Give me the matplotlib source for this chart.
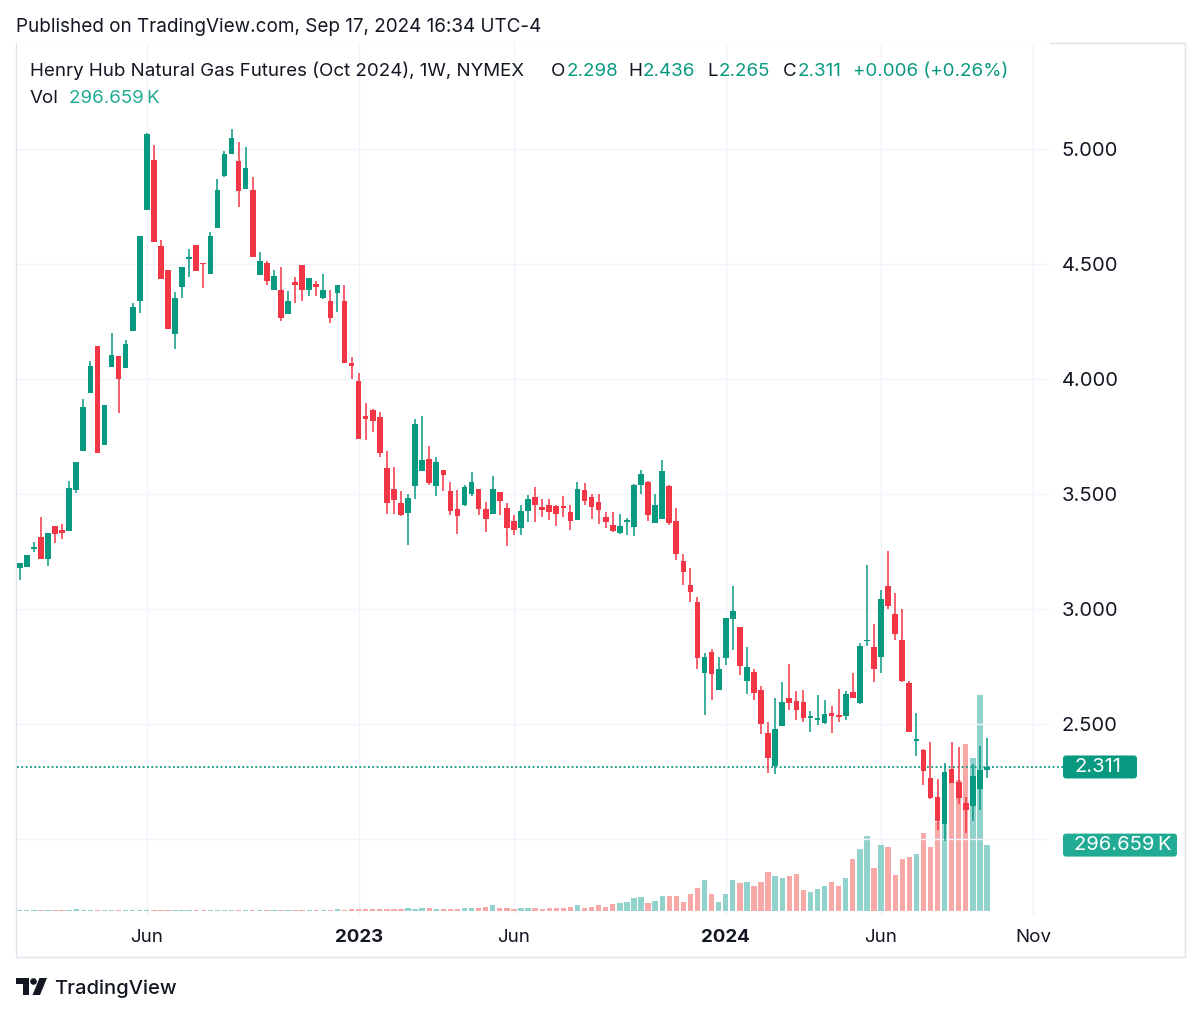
import matplotlib
matplotlib.use('Agg')
import matplotlib.pyplot as plt
import matplotlib.dates as mdates
from matplotlib.patches import Rectangle, FancyBboxPatch, Circle, Polygon
from matplotlib.transforms import IdentityTransform
import pandas as pd

plt.rcParams['font.family'] = ['Inter', 'DejaVu Sans']

# ---------------- data (weekly OHLC, Henry Hub NG Oct 2024, NYMEX) ----------------
opens = [3.177, 3.180, 3.258, 3.311, 3.216, 3.359, 3.343, 3.336, 3.514, 3.686,
         3.938, 4.142, 3.710, 4.049, 4.098, 4.044, 4.208, 4.338, 4.731, 4.952,
         4.574, 4.473, 4.194, 4.396, 4.520, 4.580, 4.500, 4.454, 4.654, 4.879,
         4.977, 4.945, 4.826, 4.821, 4.451, 4.502, 4.383, 4.386, 4.281, 4.419,
         4.495, 4.383, 4.410, 4.349, 4.335, 4.371, 4.335, 4.068, 3.988, 3.839,
         3.863, 3.831, 3.611, 3.520, 3.460, 3.416, 3.532, 3.597, 3.650, 3.532,
         3.601, 3.510, 3.431, 3.448, 3.500, 3.520, 3.431, 3.412, 3.506, 3.435,
         3.381, 3.348, 3.425, 3.486, 3.442, 3.449, 3.445, 3.445, 3.419, 3.384,
         3.517, 3.486, 3.461, 3.399, 3.362, 3.329, 3.378, 3.355, 3.536, 3.548,
         3.372, 3.391, 3.532, 3.381, 3.206, 3.101, 3.029, 2.720, 2.812, 2.645,
         2.786, 2.954, 2.920, 2.686, 2.725, 2.645, 2.457, 2.314, 2.488, 2.613,
         2.599, 2.594, 2.526, 2.514, 2.503, 2.546, 2.535, 2.533, 2.635, 2.591,
         2.857, 2.833, 2.787, 3.097, 2.975, 2.862, 2.677, 2.425, 2.384, 2.265,
         2.181, 2.062, 2.304, 2.246, 2.155, 2.142, 2.217, 2.298]
highs = [3.199, 3.231, 3.289, 3.398, 3.330, 3.359, 3.369, 3.553, 3.635, 3.909,
         4.078, 4.142, 3.885, 4.200, 4.098, 4.168, 4.330, 4.621, 5.068, 5.017,
         4.603, 4.473, 4.378, 4.483, 4.564, 4.580, 4.500, 4.637, 4.869, 4.991,
         5.083, 5.028, 5.007, 4.877, 4.550, 4.512, 4.473, 4.484, 4.381, 4.441,
         4.495, 4.436, 4.425, 4.455, 4.386, 4.407, 4.407, 4.094, 4.026, 3.895,
         3.866, 3.856, 3.686, 3.615, 3.510, 3.496, 3.823, 3.837, 3.707, 3.659,
         3.601, 3.549, 3.517, 3.539, 3.594, 3.520, 3.463, 3.575, 3.506, 3.459,
         3.406, 3.449, 3.493, 3.529, 3.478, 3.478, 3.449, 3.488, 3.449, 3.548,
         3.546, 3.500, 3.500, 3.420, 3.420, 3.413, 3.394, 3.543, 3.604, 3.555,
         3.496, 3.645, 3.536, 3.439, 3.236, 3.177, 3.051, 2.807, 2.826, 2.790,
         2.957, 3.097, 2.920, 2.833, 2.735, 2.662, 2.507, 2.609, 2.681, 2.758,
         2.642, 2.645, 2.554, 2.623, 2.601, 2.577, 2.648, 2.642, 2.720, 2.848,
         3.191, 2.932, 3.080, 3.251, 3.068, 3.000, 2.686, 2.546, 2.387, 2.420,
         2.257, 2.329, 2.420, 2.399, 2.181, 2.323, 2.401, 2.436]
lows = [3.122, 3.180, 3.245, 3.216, 3.184, 3.286, 3.304, 3.336, 3.503, 3.686,
        3.938, 3.678, 3.710, 4.049, 3.851, 4.044, 4.208, 4.284, 4.731, 4.593,
        4.434, 4.216, 4.127, 4.352, 4.441, 4.466, 4.393, 4.454, 4.654, 4.876,
        4.977, 4.746, 4.826, 4.527, 4.451, 4.405, 4.383, 4.248, 4.281, 4.330,
        4.339, 4.359, 4.357, 4.345, 4.243, 4.291, 4.066, 4.000, 3.735, 3.733,
        3.769, 3.659, 3.409, 3.409, 3.402, 3.275, 3.474, 3.597, 3.539, 3.491,
        3.510, 3.405, 3.323, 3.446, 3.491, 3.405, 3.333, 3.412, 3.406, 3.271,
        3.319, 3.319, 3.377, 3.377, 3.399, 3.384, 3.358, 3.399, 3.343, 3.384,
        3.449, 3.391, 3.367, 3.348, 3.333, 3.323, 3.319, 3.314, 3.500, 3.380,
        3.372, 3.391, 3.362, 3.213, 3.101, 3.029, 2.739, 2.539, 2.601, 2.645,
        2.754, 2.819, 2.710, 2.628, 2.604, 2.454, 2.286, 2.280, 2.488, 2.558,
        2.517, 2.507, 2.464, 2.493, 2.497, 2.459, 2.507, 2.514, 2.609, 2.584,
        2.836, 2.681, 2.720, 2.996, 2.865, 2.681, 2.461, 2.358, 2.232, 2.170,
        2.039, 1.990, 2.242, 2.152, 2.022, 2.077, 2.126, 2.265]
closes = [3.199, 3.231, 3.262, 3.216, 3.330, 3.322, 3.330, 3.524, 3.635, 3.874,
          4.056, 3.678, 3.885, 4.102, 3.996, 4.150, 4.313, 4.621, 5.061, 4.593,
          4.434, 4.216, 4.352, 4.483, 4.526, 4.466, 4.496, 4.621, 4.821, 4.974,
          5.044, 4.814, 4.916, 4.527, 4.512, 4.422, 4.444, 4.262, 4.335, 4.405,
          4.383, 4.436, 4.400, 4.386, 4.265, 4.407, 4.066, 4.053, 3.738, 3.824,
          3.817, 3.676, 3.460, 3.471, 3.405, 3.481, 3.803, 3.647, 3.546, 3.637,
          3.582, 3.424, 3.402, 3.529, 3.550, 3.431, 3.388, 3.520, 3.467, 3.348,
          3.343, 3.425, 3.478, 3.449, 3.428, 3.420, 3.410, 3.439, 3.380, 3.519,
          3.468, 3.442, 3.430, 3.377, 3.338, 3.358, 3.383, 3.536, 3.583, 3.406,
          3.449, 3.599, 3.372, 3.239, 3.159, 3.070, 2.783, 2.790, 2.714, 2.739,
          2.957, 2.990, 2.749, 2.746, 2.633, 2.497, 2.348, 2.474, 2.594, 2.590,
          2.558, 2.522, 2.532, 2.519, 2.541, 2.532, 2.530, 2.628, 2.613, 2.836,
          2.862, 2.739, 3.043, 3.010, 2.888, 2.686, 2.461, 2.430, 2.294, 2.178,
          2.075, 2.290, 2.242, 2.174, 2.123, 2.271, 2.300, 2.311]
volumes_k = [4, 3, 4, 4, 4, 4, 4, 5, 8, 4,
             4, 4, 4, 4, 4, 4, 4, 4, 4, 4,
             4, 4, 4, 4, 4, 4, 4, 4, 4, 4,
             4, 4, 4, 4, 4, 4, 4, 4, 4, 4,
             5, 5, 5, 5, 5, 8, 5, 6, 6, 7,
             6, 6, 8, 9, 8, 13, 9, 13, 12, 9,
             8, 10, 10, 12, 12, 13, 18, 27, 14, 13,
             10, 13, 13, 13, 10, 13, 13, 13, 18, 27,
             14, 15, 26, 18, 30, 33, 38, 56, 63, 36,
             42, 66, 66, 66, 41, 74, 101, 141, 78, 41,
             78, 141, 126, 128, 114, 132, 173, 158, 150, 156,
             166, 96, 84, 99, 111, 129, 111, 150, 233, 277,
             337, 191, 298, 289, 161, 232, 242, 257, 352, 286,
             402, 515, 617, 590, 751, 688, 974, 296.659]

first_week = '2022-01-31'
tick_dates = ['2022-06-06', '2023-01-02', '2023-06-05', '2024-01-01', '2024-06-03', '2024-11-01']
tick_labels = ['Jun', '2023', 'Jun', '2024', 'Jun', 'Nov']
price_ticks = [2.0, 2.5, 3.0, 3.5, 4.0, 4.5, 5.0]
price_tick_labels = ['', '2.500', '3.000', '3.500', '4.000', '4.500', '5.000']

title = 'Henry Hub Natural Gas Futures (Oct 2024), 1W, NYMEX'
ohlc_header = [('O', '2.298', 551), ('H', '2.436', 628), ('L', '2.265', 707), ('C', '2.311', 783)]
change_text = '+0.006 (+0.26%)'

# ---------------- styling ----------------
UP, DOWN = '#089981', '#f23645'
VUP, VDOWN = '#92d2cc', '#f7a9a7'
TXT = '#131722'
GRID = '#f0f3fa'
FS = 13.5

W, H = 1200, 1014
fig = plt.figure(figsize=(W / 100, H / 100), dpi=100)
fig.patch.set_facecolor('white')

left, right, top, bottom = 17, 1050, 43, 915
rect = [left / W, 1 - bottom / H, (right - left) / W, (bottom - top) / H]
axv = fig.add_axes(rect, zorder=1)
ax = fig.add_axes(rect, zorder=2, sharex=axv)
ax.patch.set_alpha(0)
axv.set_facecolor('white')

dates = pd.date_range(first_week, periods=len(closes), freq='W-MON')
x = mdates.date2num(dates)
up = [c >= o for o, c in zip(opens, closes)]
cols = [UP if u else DOWN for u in up]
vcols = [VUP if u else VDOWN for u in up]

# volume
axv.bar(x, volumes_k, width=5.3, color=vcols, linewidth=0, zorder=2)
axv.set_ylim(-19, 3918)

# candles
ax.vlines(x, lows, highs, colors=cols, linewidth=1.1, zorder=3)
bottoms = [min(o, c) for o, c in zip(opens, closes)]
heights = [max(abs(c - o), 0.008) for o, c in zip(opens, closes)]
ax.bar(x, heights, width=5.6, bottom=bottoms, color=cols, linewidth=0, zorder=4)
ax.set_ylim(1.6674, 5.4587)
ax.set_xlim(x[0] - 2.7, x[0] + 1021.5)

# grid & ticks
tx = mdates.date2num(pd.to_datetime(tick_dates))
ax.set_xticks(tx)
ax.set_xticklabels(tick_labels)
for lab in ax.get_xticklabels():
    if lab.get_text().isdigit():
        lab.set_fontweight('bold')
axv.grid(axis='x', color=GRID, linewidth=1)
axv.set_axisbelow(True)
axv.tick_params(labelbottom=False, labelleft=False, left=False, bottom=False)
axv.set_yticks([])
ax.set_yticks(price_ticks)
ax.set_yticklabels(price_tick_labels)
ax.yaxis.tick_right()
ax.grid(axis='y', color=GRID, linewidth=1, zorder=0)
ax.set_axisbelow(True)
ax.tick_params(axis='y', length=0, pad=8.5, labelsize=14.5, colors=TXT)
ax.tick_params(axis='x', length=0, pad=10, labelsize=13.5, colors=TXT)
for a in (ax, axv):
    for s in a.spines.values():
        s.set_visible(False)

# last price line
ax.axhline(closes[-1], xmax=1.013, color=UP, linewidth=1.3, linestyle=(0, (1, 1.4)),
           clip_on=False, zorder=2)

fig.canvas.draw()
renderer = fig.canvas.get_renderer()
ident = IdentityTransform()

def badge(ycen, x0, w, color, text):
    p = FancyBboxPatch((x0, ycen - 11.5), w, 23, boxstyle='round,pad=0,rounding_size=3',
                       transform=ident, facecolor=color, edgecolor='none', zorder=10)
    fig.add_artist(p)
    fig.text((x0 + 11) / W, ycen / H, text, color='white', fontsize=14.5,
             va='center', ha='left', zorder=11)

yp = ax.transData.transform((x[-1], closes[-1]))[1]
badge(yp, 1063, 74, UP, f'{closes[-1]:.3f}')
yv = axv.transData.transform((x[-1], volumes_k[-1]))[1]
badge(yv, 1063, 114, '#22ab94', f'{volumes_k[-1]:.3f}\u2009K')

# frame
fig.add_artist(Rectangle((16, H - 957), 1169, 914, transform=ident, fill=False,
                         edgecolor='#e0e3eb', linewidth=1, zorder=0))

def ftext(px, py, s, **kw):
    return fig.text(px / W, 1 - py / H, s, **kw)

def width_px(t):
    return t.get_window_extent(renderer).width

ftext(16, 32.5, 'Published on TradingView.com, Sep 17, 2024 16:34 UTC-4', fontsize=13.6,
      color=TXT, va='baseline')
ftext(30, 76, title, fontsize=FS, color=TXT, va='baseline')
for k, v, px in ohlc_header:
    t = ftext(px, 76, k, fontsize=FS, color=TXT, va='baseline')
    ftext(px + width_px(t) + 1, 76, v, fontsize=FS, color=UP, va='baseline')
ftext(853, 76, change_text, fontsize=FS, color=UP, va='baseline')
ftext(30, 103, 'Vol', fontsize=FS, color=TXT, va='baseline')
ftext(69, 103, f'{volumes_k[-1]:.3f}\u2009K', fontsize=FS, color='#22ab94', va='baseline')

# TradingView logo
def P(px, py):
    return (px, H - py)
fig.add_artist(Polygon([P(16, 978), P(29, 978), P(29, 995), P(23, 995), P(23, 984), P(16, 984)],
                       closed=True, transform=ident, facecolor=TXT, edgecolor='none'))
fig.add_artist(Circle(P(33.5, 981.5), 3.3, transform=ident, facecolor=TXT, edgecolor='none'))
fig.add_artist(Polygon([P(39.5, 978), P(47, 978), P(40, 995), P(32.5, 995)],
                       closed=True, transform=ident, facecolor=TXT, edgecolor='none'))
ftext(54, 994, 'TradingView', fontsize=14.5, color=TXT, va='baseline', fontweight='medium')

fig.savefig('out.png', dpi=100)
